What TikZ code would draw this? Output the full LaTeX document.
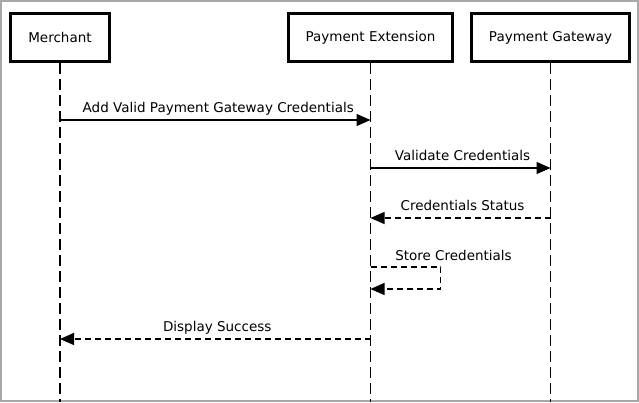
\documentclass[tikz,border=0pt]{standalone}
\usepackage{fontspec}
\setmainfont{DejaVu Sans}
\usetikzlibrary{arrows.meta,positioning}
\definecolor{frmgray}{RGB}{168,168,168}
\tikzset{
  actor/.style={draw, line width=2.8pt, minimum height=48pt, inner sep=0pt, font=\fontsize{13.5}{16}\selectfont},
  lline/.style={line width=1.5pt, dash pattern=on 11pt off 5pt},
  msg/.style={-{Triangle[length=14pt,width=12pt]}, line width=1.3pt},
  rmsg/.style={msg, dash pattern=on 6pt off 4pt},
  mlab/.style={font=\fontsize{13.5}{16}\selectfont, inner sep=0pt, text depth=0pt, above=6.5pt},
}

\begin{document}
\begin{tikzpicture}[x=1pt,y=-1pt]
  \useasboundingbox (0,0) rectangle (639,402);
  \draw[frmgray, line width=2pt] (1,1) rectangle (638,401);
  \node[actor, minimum width=99pt] (mer) at (60,37.5) {Merchant};
  \node[actor, minimum width=164pt] (ext) at (370.5,37.5) {Payment Extension};
  \node[actor, minimum width=158pt] (gw) at (550.5,37.5) {Payment Gateway};
  \coordinate (merE) at (mer.south |- 0,402);
  \coordinate (extE) at (ext.south |- 0,402);
  \coordinate (gwE) at (gw.south |- 0,402);
  \draw[lline] (mer.south) -- (merE);
  \draw[lline] (ext.south) -- (extE);
  \draw[lline] (gw.south) -- (gwE);
  \coordinate (m1a) at (mer.south |- 0,120); \coordinate (m1b) at (ext.south |- 0,120);
  \coordinate (m2a) at (ext.south |- 0,168); \coordinate (m2b) at (gw.south |- 0,168);
  \coordinate (m3a) at (gw.south |- 0,218);  \coordinate (m3b) at (ext.south |- 0,218);
  \coordinate (s1) at (ext.south |- 0,267);  \coordinate (s2) at (ext.south |- 0,289);
  \coordinate (m5a) at (ext.south |- 0,339); \coordinate (m5b) at (mer.south |- 0,339);
  \draw[msg] (m1a) -- node[mlab, xshift=3pt] (l1) {Add Valid Payment Gateway Credentials} (m1b);
  \draw[msg] (m2a) -- node[mlab, xshift=2pt] (l2) {Validate Credentials} (m2b);
  \draw[rmsg] (m3a) -- node[mlab, xshift=2pt] (l3) {Credentials Status} (m3b);
  \draw[rmsg] (s1) -- ++(70,0) |- (s2);
  \node[mlab] (l4) at ([xshift=83pt]s1) {Store Credentials};
  \draw[rmsg] (m5a) -- node[mlab, xshift=2pt] (l5) {Display Success} (m5b);
\end{tikzpicture}
\end{document}
